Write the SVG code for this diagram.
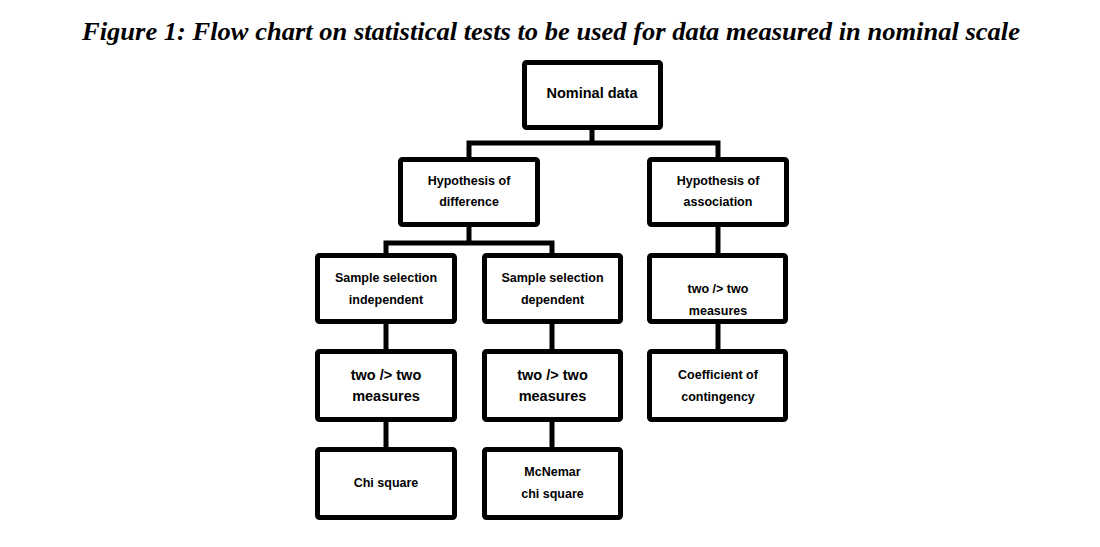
<svg xmlns="http://www.w3.org/2000/svg" width="1100" height="547" viewBox="0 0 1100 547">
<style>
.box{fill:#fff;stroke:#000;stroke-width:5}
.c{fill:none;stroke:#000;stroke-width:5;stroke-linejoin:miter}
.t{font-family:"Liberation Sans",Arial,sans-serif;font-weight:bold;font-size:12.5px;text-anchor:middle;fill:#000}
.a{font-size:14.5px}
.title{font-family:"Liberation Serif",serif;font-weight:bold;font-style:italic;font-size:25px;text-anchor:middle}
</style>
<rect width="1100" height="547" fill="#fff"/>
<text class="title" x="551" y="40" textLength="938" lengthAdjust="spacingAndGlyphs">Figure 1: Flow chart on statistical tests to be used for data measured in nominal scale</text>
<g id="connectors">
<path class="c" d="M592 130V143M469 157V143H718V157"/>
<path class="c" d="M469 227V243M386 253V243H552V253"/>
<path class="c" d="M718 227V253"/>
<path class="c" d="M386 324V349M552 324V349M718 324V349"/>
<path class="c" d="M386 422V447M552 422V447"/>
</g>
<g id="nominal"><rect class="box" x="524.5" y="62.5" width="136" height="65" rx="2"/><text class="t a" x="592" y="98">Nominal data</text></g>
<g id="hyp-diff"><rect class="box" x="400.5" y="159.5" width="137" height="65" rx="2"/><text class="t" x="469" y="185">Hypothesis of</text><text class="t" x="469" y="206">difference</text></g>
<g id="hyp-assoc"><rect class="box" x="649.5" y="159.5" width="137" height="65" rx="2"/><text class="t" x="718" y="185">Hypothesis of</text><text class="t" x="718" y="206">association</text></g>
<g id="indep"><rect class="box" x="317.5" y="255.5" width="137" height="66" rx="2"/><text class="t" x="386" y="282">Sample selection</text><text class="t" x="386" y="304">independent</text></g>
<g id="dep"><rect class="box" x="484.5" y="255.5" width="136" height="66" rx="2"/><text class="t" x="552.5" y="282">Sample selection</text><text class="t" x="552.5" y="304">dependent</text></g>
<g id="assoc-measures"><rect class="box" x="649.5" y="255.5" width="136" height="66" rx="2"/><text class="t" x="718" y="293">two /&gt; two</text><text class="t" x="718" y="315">measures</text></g>
<g id="indep-measures"><rect class="box" x="317.5" y="351.5" width="137" height="68" rx="2"/><text class="t a" x="386" y="380">two /&gt; two</text><text class="t a" x="386" y="401">measures</text></g>
<g id="dep-measures"><rect class="box" x="484.5" y="351.5" width="136" height="68" rx="2"/><text class="t a" x="552.5" y="380">two /&gt; two</text><text class="t a" x="552.5" y="401">measures</text></g>
<g id="contingency"><rect class="box" x="649.5" y="351.5" width="136" height="68" rx="2"/><text class="t" x="718" y="379">Coefficient of</text><text class="t" x="718" y="401">contingency</text></g>
<g id="chi"><rect class="box" x="317.5" y="449.5" width="137" height="68" rx="2"/><text class="t" x="386" y="487">Chi square</text></g>
<g id="mcnemar"><rect class="box" x="484.5" y="449.5" width="136" height="68" rx="2"/><text class="t" x="552.5" y="476">McNemar</text><text class="t" x="552.5" y="498">chi square</text></g>
</svg>
